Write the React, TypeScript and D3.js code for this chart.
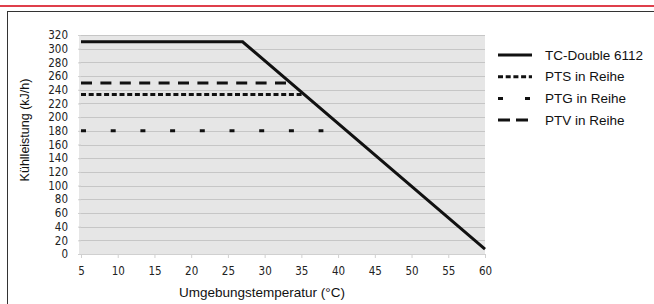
import React, { useEffect, useRef } from 'react'
import * as d3 from 'd3'

// series: temperature (°C) -> cooling power (kJ/h)
const tcTemps = [5, 27, 60]
const tcValues = [310, 310, 7]
const ptsTemps = [5, 35.3]
const ptsValues = [233, 233]
const ptgTemps = [5, 38]
const ptgValues = [180, 180]
const ptvTemps = [5, 33.5]
const ptvValues = [250, 250]

const seriesNames = ['TC-Double 6112', 'PTS in Reihe', 'PTG in Reihe', 'PTV in Reihe']
const xTicks = [5, 10, 15, 20, 25, 30, 35, 40, 45, 50, 55, 60]
const yTicks = d3.range(0, 321, 20)

const dashes = ['none', '5,2.7', '5,24.7', '11,8.4']

export default function App() {
  const ref = useRef<SVGSVGElement>(null)

  useEffect(() => {
    const svg = d3.select(ref.current)
    svg.selectAll('*').remove()

    const margin = { top: 35, left: 81, right: 169, bottom: 50 }
    const W = 654, H = 304
    const w = W - margin.left - margin.right
    const h = H - margin.top - margin.bottom
    const tickFont = '"DejaVu Sans Condensed", "DejaVu Sans", sans-serif'
    const labelFont = '"Liberation Sans", Arial, sans-serif'

    // red rule and frame
    svg.append('rect').attr('x', 0).attr('y', 5).attr('width', W).attr('height', 2).attr('fill', '#df3f4b')
    svg.append('rect').attr('x', 7.5).attr('y', 11.5).attr('width', 700).attr('height', 320)
      .attr('fill', 'none').attr('stroke', '#333').attr('stroke-width', 1)

    const x = d3.scaleLinear().domain([5, 60]).range([0, w])
    const y = d3.scaleLinear().domain([0, 320]).range([h, 0])

    const g = svg.append('g').attr('transform', `translate(${margin.left}, ${margin.top})`)

    // plot area
    g.append('rect').attr('x', -2).attr('y', 0).attr('width', w + 2).attr('height', h).attr('fill', '#e6e6e6')

    g.selectAll('.grid').data(yTicks).join('line').attr('class', 'grid')
      .attr('x1', -2).attr('x2', w)
      .attr('y1', d => Math.round(y(d)) + 0.5).attr('y2', d => Math.round(y(d)) + 0.5)
      .attr('stroke', '#c6c6c6').attr('stroke-width', 1)

    // axes
    const xAxis = g.append('g').attr('transform', `translate(0, ${h})`)
      .call(d3.axisBottom(x).tickValues(xTicks).tickSize(4).tickPadding(9).tickFormat(d3.format('d')))
    xAxis.select('.domain').attr('stroke', '#d0d0d0')
    xAxis.selectAll('line').attr('stroke', '#d0d0d0')
    xAxis.selectAll('text').attr('fill', '#222').style('font-family', tickFont).style('font-size', '11.5px')

    const yAxis = g.append('g')
      .call(d3.axisLeft(y).tickValues(yTicks).tickSize(3).tickPadding(10).tickFormat(d3.format('d')))
    yAxis.select('.domain').remove()
    yAxis.selectAll('line').attr('stroke', '#d0d0d0')
    yAxis.selectAll('text').attr('fill', '#222').style('font-family', tickFont).style('font-size', '11.5px')

    // lines
    const series = [
      tcTemps.map((t, i) => [t, tcValues[i]]),
      ptsTemps.map((t, i) => [t, ptsValues[i]]),
      ptgTemps.map((t, i) => [t, ptgValues[i]]),
      ptvTemps.map((t, i) => [t, ptvValues[i]]),
    ]
    const line = d3.line<number[]>().x(d => x(d[0])).y(d => y(d[1]))

    g.selectAll('.series').data(series).join('path').attr('class', 'series')
      .attr('d', d => line(d))
      .attr('fill', 'none')
      .attr('stroke', '#111')
      .attr('stroke-width', 3)
      .attr('stroke-dasharray', (d, i) => dashes[i])

    // axis titles
    svg.append('text')
      .attr('x', 262).attr('y', 297)
      .attr('text-anchor', 'middle')
      .style('font-family', labelFont).style('font-size', '13.5px')
      .attr('fill', '#111')
      .text('Umgebungstemperatur (°C)')

    svg.append('text')
      .attr('transform', 'translate(29, 130) rotate(-90)')
      .attr('text-anchor', 'middle')
      .style('font-family', labelFont).style('font-size', '12.5px')
      .attr('fill', '#111')
      .text('Kühlleistung (kJ/h)')

    // legend
    const legend = svg.append('g').attr('transform', 'translate(498, 55)')
    const rows = legend.selectAll('.leg').data(seriesNames).join('g').attr('class', 'leg')
      .attr('transform', (d, i) => `translate(0, ${i * 21.7})`)
    rows.append('line').attr('x1', 0).attr('x2', 34).attr('y1', 0).attr('y2', 0)
      .attr('stroke', '#111').attr('stroke-width', 3)
      .attr('stroke-dasharray', (d, i) => i === 3 ? '12,6' : i === 2 ? '5,22' : dashes[i])
    rows.append('text').attr('x', 47).attr('y', 0).attr('dy', '0.35em')
      .style('font-family', labelFont).style('font-size', '13.5px')
      .attr('fill', '#111')
      .text(d => d)
  }, [])

  return (
    <svg ref={ref} width={654} height={304}
      style={{ position: 'absolute', left: 0, top: 0, background: '#fff', display: 'block' }} />
  )
}
